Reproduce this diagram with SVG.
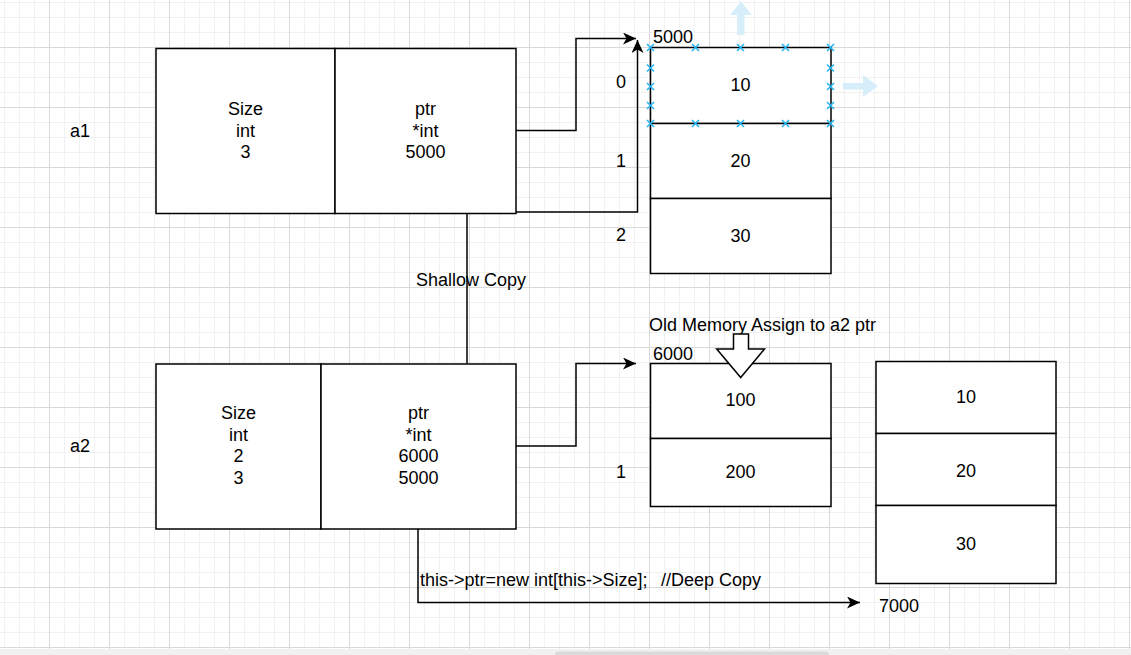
<svg xmlns="http://www.w3.org/2000/svg" width="1131" height="655" viewBox="0 0 1131 655">
<style>
.t{font-family:"Liberation Sans",Arial,sans-serif;font-size:18px;fill:#000}
.c{text-anchor:middle}
.box{fill:#fff;stroke:#000;stroke-width:1.5}
.ln{fill:none;stroke:#000;stroke-width:1.5}
.h{fill:none;stroke:#29b6f2;stroke-width:1.6}
.g{fill:#d6eefa}
</style>
<defs>
<pattern id="grid" patternUnits="userSpaceOnUse" x="49" y="47" width="60" height="60">
<rect x="15" y="0" width="1" height="60" fill="#f1f1f1"/>
<rect x="30" y="0" width="1" height="60" fill="#f1f1f1"/>
<rect x="45" y="0" width="1" height="60" fill="#f1f1f1"/>
<rect x="0" y="15" width="60" height="1" fill="#f1f1f1"/>
<rect x="0" y="30" width="60" height="1" fill="#f1f1f1"/>
<rect x="0" y="45" width="60" height="1" fill="#f1f1f1"/>
<rect x="0" y="0" width="1" height="60" fill="#d9d9d9"/>
<rect x="0" y="0" width="60" height="1" fill="#d9d9d9"/>
</pattern>
<marker id="arr" markerUnits="userSpaceOnUse" markerWidth="14" markerHeight="12" refX="13" refY="6" orient="auto" viewBox="0 0 14 12">
<path d="M0,0 L13,6 L0,12 L3.5,6 Z" fill="#000"/>
</marker>
<path id="x" d="M-3.5,-3.5 L3.5,3.5 M-3.5,3.5 L3.5,-3.5" class="h"/>
</defs>
<rect width="1131" height="655" fill="#fff"/>
<rect width="1131" height="649" fill="url(#grid)"/>
<rect x="0" y="649" width="1131" height="6" fill="#f1f1f1"/>
<rect x="555" y="651.5" width="274" height="6" rx="3" fill="#dadada"/>

<g id="connectors">
<path class="ln" d="M516,130.5 H576 V38.5 H636" marker-end="url(#arr)"/>
<path class="ln" d="M467,363.5 V212 H637.5 V40" marker-end="url(#arr)"/>
<path class="ln" d="M516,446 H576 V363.5 H636" marker-end="url(#arr)"/>
<path class="ln" d="M418,528.5 V602.5 H860" marker-end="url(#arr)"/>
</g>

<g id="a1">
<rect class="box" x="156" y="48.5" width="179" height="165"/>
<rect class="box" x="335" y="48.5" width="181" height="165"/>
<text class="t c" x="245.5" y="115">Size</text>
<text class="t c" x="245.5" y="136.6">int</text>
<text class="t c" x="245.5" y="158.2">3</text>
<text class="t c" x="425.5" y="115">ptr</text>
<text class="t c" x="425.5" y="136.6">*int</text>
<text class="t c" x="425.5" y="158.2">5000</text>
</g>
<g id="a2">
<rect class="box" x="156" y="364" width="165" height="165"/>
<rect class="box" x="321" y="364" width="195" height="165"/>
<text class="t c" x="238.5" y="419">Size</text>
<text class="t c" x="238.5" y="440.6">int</text>
<text class="t c" x="238.5" y="462.2">2</text>
<text class="t c" x="238.5" y="483.8">3</text>
<text class="t c" x="418.5" y="419">ptr</text>
<text class="t c" x="418.5" y="440.6">*int</text>
<text class="t c" x="418.5" y="462.2">6000</text>
<text class="t c" x="418.5" y="483.8">5000</text>
</g>

<g id="labels">
<text class="t c" x="80" y="137">a1</text>
<text class="t c" x="80" y="452">a2</text>
<text class="t" x="416" y="286">Shallow Copy</text>
<text class="t" x="649" y="331">Old Memory Assign to a2 ptr</text>
<text class="t" x="420" y="586" xml:space="preserve">this-&gt;ptr=new int[this-&gt;Size];<tspan x="661">//Deep Copy</tspan></text>
<text class="t" x="653" y="43">5000</text>
<text class="t" x="653" y="360">6000</text>
<text class="t" x="879" y="611.5">7000</text>
<text class="t c" x="621" y="88">0</text>
<text class="t c" x="621" y="166.5">1</text>
<text class="t c" x="621" y="240.5">2</text>
<text class="t c" x="621" y="478">1</text>
</g>

<g id="mem1">
<rect class="box" x="650.5" y="47.5" width="180.5" height="76"/>
<rect class="box" x="650.5" y="123.5" width="180.5" height="75"/>
<rect class="box" x="650.5" y="198.5" width="180.5" height="75"/>
<text class="t c" x="740.5" y="91">10</text>
<text class="t c" x="740.5" y="166.5">20</text>
<text class="t c" x="740.5" y="241.5">30</text>
</g>
<g id="selection">
<use href="#x" x="650.5" y="47.5"/><use href="#x" x="695.5" y="47.5"/><use href="#x" x="740.5" y="47.5"/><use href="#x" x="785.5" y="47.5"/><use href="#x" x="830.5" y="47.5"/>
<use href="#x" x="650.5" y="123.5"/><use href="#x" x="695.5" y="123.5"/><use href="#x" x="740.5" y="123.5"/><use href="#x" x="785.5" y="123.5"/><use href="#x" x="830.5" y="123.5"/>
<use href="#x" x="650.5" y="68"/><use href="#x" x="650.5" y="86.5"/><use href="#x" x="650.5" y="105.5"/>
<use href="#x" x="830.5" y="68"/><use href="#x" x="830.5" y="86.5"/><use href="#x" x="830.5" y="105.5"/>
<path class="g" d="M741,1.5 L752,15 L744.5,15 L744.5,35 L737,35 L737,15 L730,15 Z"/>
<path class="g" d="M843,83 L863,83 L863,75 L878,86 L863,97 L863,89.5 L843,89.5 Z"/>
</g>

<g id="mem2">
<rect class="box" x="650.5" y="363.5" width="180.5" height="75"/>
<rect class="box" x="650.5" y="438.5" width="180.5" height="68"/>
<text class="t c" x="740.5" y="406">100</text>
<text class="t c" x="740.5" y="478">200</text>
</g>
<g id="blockarrow">
<path d="M733.5,334 H748.5 V349 H764.5 L740.7,377.5 L716.7,349 H733.5 Z" fill="#fff" stroke="#000" stroke-width="1.5"/>
</g>
<g id="mem3">
<rect class="box" x="876" y="361.5" width="180" height="72"/>
<rect class="box" x="876" y="433.5" width="180" height="72"/>
<rect class="box" x="876" y="505.5" width="180" height="78"/>
<text class="t c" x="966" y="403">10</text>
<text class="t c" x="966" y="476.5">20</text>
<text class="t c" x="966" y="550">30</text>
</g>
</svg>
